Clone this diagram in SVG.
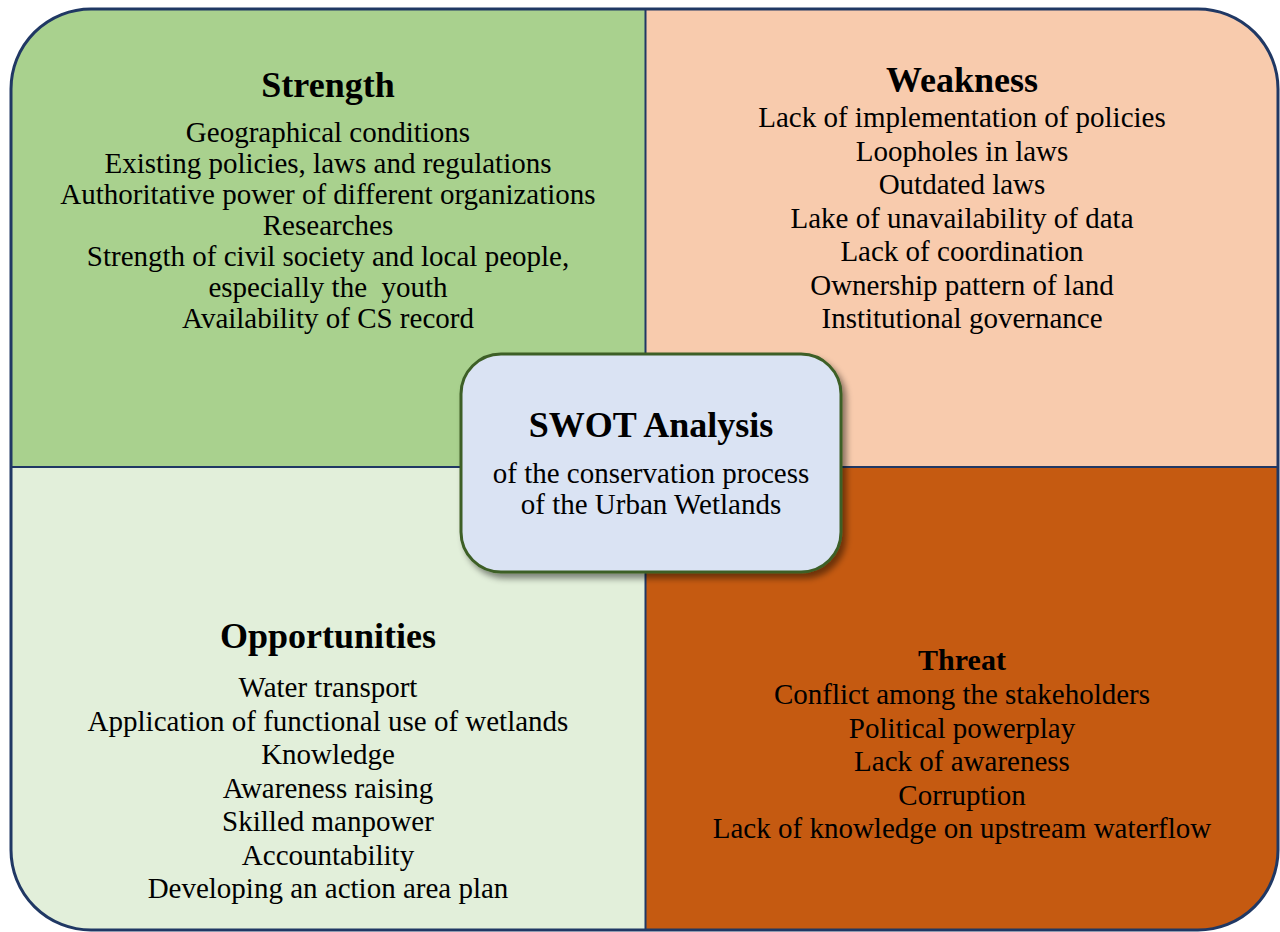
<svg xmlns="http://www.w3.org/2000/svg" width="1280" height="932" viewBox="0 0 1280 932">
<style>
text { font-family: "Liberation Serif", "Times New Roman", serif; fill: #000; text-anchor: middle; }
.t { font-size: 36px; font-weight: bold; }
.b { font-size: 29px; }
.div { stroke: #203864; stroke-width: 2; fill: none; }
</style>
<defs>
<clipPath id="outer"><rect x="11" y="9" width="1267" height="921" rx="80" ry="80"/></clipPath>
<filter id="sh" x="-10%" y="-10%" width="125%" height="130%">
<feDropShadow dx="4" dy="5" stdDeviation="3" flood-color="#000" flood-opacity="0.45"/>
</filter>
</defs>
<rect width="1280" height="932" fill="#fff"/>
<g clip-path="url(#outer)">
<rect id="q-s" x="0" y="0" width="645.5" height="467" fill="#a9d18e"/>
<rect id="q-w" x="645.5" y="0" width="640" height="467" fill="#f8cbad"/>
<rect id="q-o" x="0" y="467" width="645.5" height="470" fill="#e2efda"/>
<rect id="q-t" x="645.5" y="467" width="640" height="470" fill="#c55a11"/>
</g>
<g id="connectors">
<line class="div" x1="645.5" y1="9" x2="645.5" y2="930"/>
<line class="div" x1="11" y1="467" x2="1278" y2="467"/>
</g>
<rect x="11" y="9" width="1267" height="921" rx="80" ry="80" fill="none" stroke="#203864" stroke-width="3"/>
<g id="strength">
<text class="t" x="328" y="97">Strength</text>
<text class="b" x="328" y="142">Geographical conditions</text>
<text class="b" x="328" y="173">Existing policies, laws and regulations</text>
<text class="b" x="328" y="204">Authoritative power of different organizations</text>
<text class="b" x="328" y="235">Researches</text>
<text class="b" x="328" y="266">Strength of civil society and local people,</text>
<text class="b" x="328" y="297" xml:space="preserve">especially the  youth</text>
<text class="b" x="328" y="328">Availability of CS record</text>
</g>
<g id="weakness">
<text class="t" x="962" y="92">Weakness</text>
<text class="b" x="962" y="127">Lack of implementation of policies</text>
<text class="b" x="962" y="160.5">Loopholes in laws</text>
<text class="b" x="962" y="194">Outdated laws</text>
<text class="b" x="962" y="227.5">Lake of unavailability of data</text>
<text class="b" x="962" y="261">Lack of coordination</text>
<text class="b" x="962" y="294.5">Ownership pattern of land</text>
<text class="b" x="962" y="328">Institutional governance</text>
</g>
<g id="opportunities">
<text class="t" x="328" y="648">Opportunities</text>
<text class="b" x="328" y="697">Water transport</text>
<text class="b" x="328" y="730.5">Application of functional use of wetlands</text>
<text class="b" x="328" y="764">Knowledge</text>
<text class="b" x="328" y="797.5">Awareness raising</text>
<text class="b" x="328" y="831">Skilled manpower</text>
<text class="b" x="328" y="864.5">Accountability</text>
<text class="b" x="328" y="898">Developing an action area plan</text>
</g>
<g id="threat">
<text class="t" x="962" y="670" style="font-size:30px">Threat</text>
<text class="b" x="962" y="704">Conflict among the stakeholders</text>
<text class="b" x="962" y="737.5">Political powerplay</text>
<text class="b" x="962" y="771">Lack of awareness</text>
<text class="b" x="962" y="804.5">Corruption</text>
<text class="b" x="962" y="838">Lack of knowledge on upstream waterflow</text>
</g>
<g id="center">
<rect x="461" y="354" width="380" height="218" rx="40" ry="40" fill="#dae3f3" stroke="#3d5f27" stroke-width="3" filter="url(#sh)"/>
<text class="t" x="651" y="437">SWOT Analysis</text>
<text class="b" x="651" y="483">of the conservation process</text>
<text class="b" x="651" y="514">of the Urban Wetlands</text>
</g>
</svg>
